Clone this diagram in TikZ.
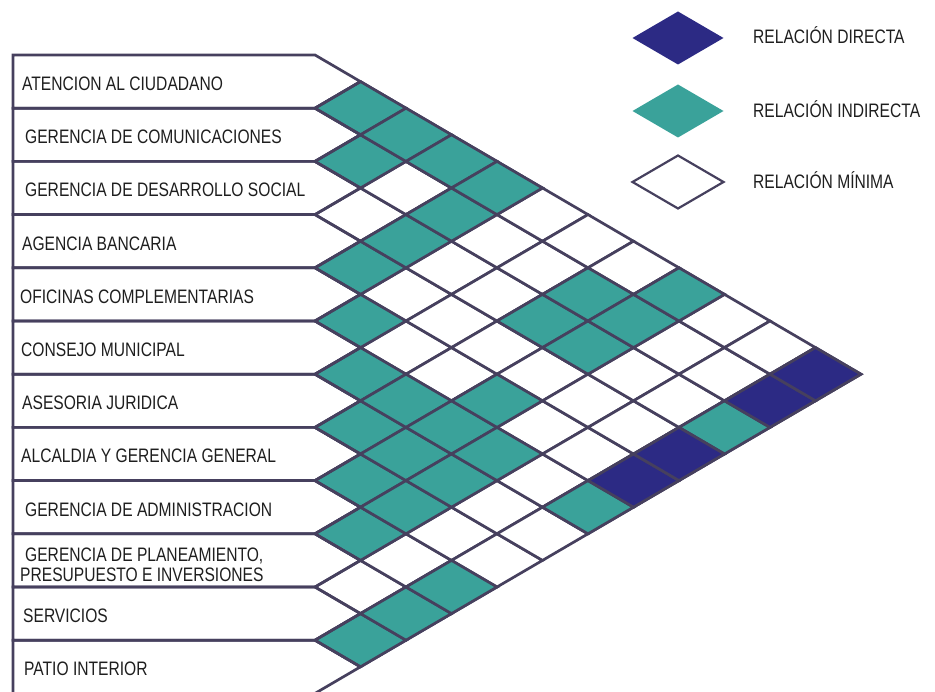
\documentclass[tikz,border=0pt]{standalone}
\usepackage{fontspec}
\setmainfont{Liberation Sans}[FakeStretch=0.8]
\definecolor{linea}{RGB}{70,64,94}
\definecolor{azul}{RGB}{44,42,132}
\definecolor{verde}{RGB}{58,162,154}
\definecolor{texto}{RGB}{30,30,30}
% origin of the lattice and half sizes of one cell
\def\xo{315}
\def\yo{55}
\def\rw{45.5}
\def\rh{26.6}
% one cell of the matrix, between row #1 and row #2
\newcommand{\celda}[3]{%
  \draw[#3] ({\xo+\rw*(#2-#1-1)},{\yo+\rh*(#1+#2-1)}) -- ++(\rw,-\rh) -- ++(\rw,\rh) -- ++(-\rw,\rh) -- cycle;}

\begin{document}
\begin{tikzpicture}[x=1pt, y=-1pt,
    fila/.style={draw=linea, line width=2.7pt, line join=miter},
    rombo/.style={draw=linea, line width=2.7pt, line join=miter},
    directa/.style={rombo, fill=azul},
    indirecta/.style={rombo, fill=verde},
    minima/.style={rombo, fill=white},
    etiqueta/.style={anchor=base west, inner sep=0pt, text=texto, font=\fontsize{19.5}{20.5}\selectfont}]
\useasboundingbox (0,0) rectangle (935,692);

% all cells white first
\foreach \k [evaluate=\k as \n using int(12-\k)] in {1,...,11} {
    \foreach \i [evaluate=\i as \j using int(\i+\k)] in {1,...,\n} {
        \celda{\i}{\j}{minima}
    }
}
% relacion indirecta
\foreach \i/\j in {1/2,2/3,4/5,5/6,6/7,7/8,8/9,9/10,11/12,
                   1/3,3/5,6/8,7/9,8/10,10/12,
                   1/4,2/5,6/9,7/10,9/12,
                   1/5,5/9,6/10,3/8,2/8,3/9,6/12,2/9,1/9,3/12} {
    \celda{\i}{\j}{indirecta}
}
% relacion directa
\foreach \i/\j in {5/12,4/12,2/12,1/12} {
    \celda{\i}{\j}{directa}
}

% the rows with their arrow ends
\foreach \i [evaluate=\i as \t using {\yo+2*\rh*(\i-1)}] in {1,...,12} {
    \draw[fila] (13,\t) -- (\xo,\t) -- ({\xo+\rw},{\t+\rh}) -- (\xo,{\t+2*\rh}) -- (13,{\t+2*\rh}) -- cycle;
}

% labels of the rows
\node[etiqueta] (r1) at (22,90.6) {ATENCION AL CIUDADANO};
\node[etiqueta] (r2) at (25,143.8) {GERENCIA DE COMUNICACIONES};
\node[etiqueta] (r3) at (25,197) {GERENCIA DE DESARROLLO SOCIAL};
\node[etiqueta] (r4) at (22,250.2) {AGENCIA BANCARIA};
\node[etiqueta] (r5) at (20,303.4) {OFICINAS COMPLEMENTARIAS};
\node[etiqueta] (r6) at (21,356.6) {CONSEJO MUNICIPAL};
\node[etiqueta] (r7) at (22,409.8) {ASESORIA JURIDICA};
\node[etiqueta] (r8) at (21,463) {ALCALDIA Y GERENCIA GENERAL};
\node[etiqueta] (r9) at (25,516.2) {GERENCIA DE ADMINISTRACION};
\node[etiqueta, anchor=west, align=left] (r10) at (20,565) {\hspace{5pt}GERENCIA DE PLANEAMIENTO,\\PRESUPUESTO E INVERSIONES};
\node[etiqueta] (r11) at (23,622.6) {SERVICIOS};
\node[etiqueta] (r12) at (24,675.8) {PATIO INTERIOR};

% legend
\fill[azul] (632.5,38) -- ++(\rw,-26.5) -- ++(\rw,26.5) -- ++(-\rw,26.5) -- cycle;
\fill[verde] (632.5,111) -- ++(\rw,-26.5) -- ++(\rw,26.5) -- ++(-\rw,26.5) -- cycle;
\draw[linea, line width=2.2pt] (632.5,182) -- ++(\rw,-26.5) -- ++(\rw,26.5) -- ++(-\rw,26.5) -- cycle;
\node[etiqueta] (ldirecta) at (753,44) {RELACIÓN DIRECTA};
\node[etiqueta] (lindirecta) at (753,117.7) {RELACIÓN INDIRECTA};
\node[etiqueta] (lminima) at (753,188.5) {RELACIÓN MÍNIMA};
\end{tikzpicture}
\end{document}
